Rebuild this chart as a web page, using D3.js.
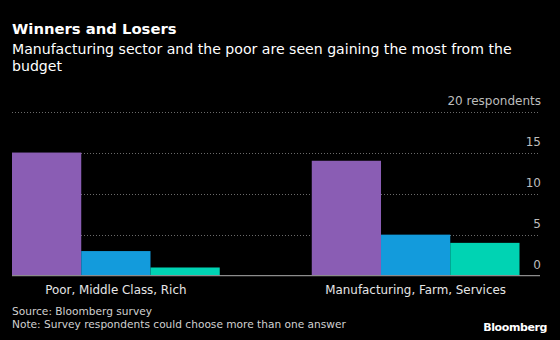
<!DOCTYPE html>
<html>
<head>
<meta charset="utf-8">
<script src="https://cdn.jsdelivr.net/npm/d3@7"></script>
<style>
  html, body { margin: 0; padding: 0; background: #000; }
  svg { display: block; font-family: "DejaVu Sans", sans-serif; }
</style>
</head>
<body>
<div id="chart"></div>
<script>
var w = 560;
var h = 340;

// groups along the x axis, and the three bars inside each group
var groups = ["Poor, Middle Class, Rich", "Manufacturing, Farm, Services"];
var firstBar = [15, 14];   // Poor / Manufacturing
var secondBar = [3, 5];    // Middle Class / Farm
var thirdBar = [1, 4];     // Rich / Services
var yTicks = [0, 5, 10, 15, 20];

var barColors = ["#8a5db4", "#139bdc", "#00d3b3"];

var svg = d3.select("#chart")
  .append("svg")
  .attr("width", w)
  .attr("height", h);

// title block
svg.append("text")
  .attr("x", 12)
  .attr("y", 34)
  .attr("fill", "#fff")
  .attr("font-size", 14.8)
  .attr("font-weight", "bold")
  .text("Winners and Losers");

svg.append("text")
  .attr("x", 12)
  .attr("y", 54)
  .attr("fill", "#fff")
  .attr("font-size", 14.1)
  .text("Manufacturing sector and the poor are seen gaining the most from the");

svg.append("text")
  .attr("x", 12)
  .attr("y", 71)
  .attr("fill", "#fff")
  .attr("font-size", 14.1)
  .text("budget");

var plotLeft = 12, plotRight = 540, plotTop = 111.5, plotBottom = 275.7;

var y = d3.scaleLinear()
  .domain([0, 20])
  .range([plotBottom, plotTop]);

var x0 = d3.scaleBand()
  .domain(groups)
  .range([plotLeft, 519.5])
  .paddingInner(0.307)
  .paddingOuter(0);

var x1 = d3.scaleBand()
  .domain([0, 1, 2])
  .range([0, x0.bandwidth()]);

// dotted gridlines
svg.append("g")
  .selectAll("line")
  .data(yTicks.filter(function(d) { return d > 0; }))
  .enter()
  .append("line")
  .attr("x1", plotLeft)
  .attr("x2", plotRight)
  .attr("y1", function(d) { return Math.round(y(d)) + 0.5; })
  .attr("y2", function(d) { return Math.round(y(d)) + 0.5; })
  .attr("stroke", "#6a6a6a")
  .attr("stroke-width", 1)
  .attr("stroke-dasharray", "1,2");

// tick labels, right aligned above each gridline
svg.append("g")
  .selectAll("text")
  .data(yTicks)
  .enter()
  .append("text")
  .attr("x", 541)
  .attr("y", function(d) { return y(d) - 7; })
  .attr("text-anchor", "end")
  .attr("fill", "#bdbdbd")
  .attr("font-size", 12)
  .text(function(d) { return d == 20 ? "20 respondents" : d; });

// bars
var rows = groups.map(function(g, i) {
  return { group: g, values: [firstBar[i], secondBar[i], thirdBar[i]] };
});

var grp = svg.append("g")
  .selectAll("g")
  .data(rows)
  .enter()
  .append("g")
  .attr("transform", function(d) { return "translate(" + x0(d.group) + ",0)"; });

grp.selectAll("rect")
  .data(function(d) { return d.values; })
  .enter()
  .append("rect")
  .attr("x", function(d, i) { return x1(i); })
  .attr("width", x1.bandwidth())
  .attr("y", function(d) { return y(d); })
  .attr("height", function(d) { return y(0) - y(d); })
  .attr("fill", function(d, i) { return barColors[i]; });

// zero line
svg.append("line")
  .attr("x1", plotLeft)
  .attr("x2", plotRight)
  .attr("y1", y(0))
  .attr("y2", y(0))
  .attr("stroke", "#8c8c8c")
  .attr("stroke-width", 1.2);

// category labels
svg.append("g")
  .selectAll("text")
  .data(groups)
  .enter()
  .append("text")
  .attr("x", function(d) { return x0(d) + x0.bandwidth() / 2; })
  .attr("y", 294)
  .attr("text-anchor", "middle")
  .attr("fill", "#e6e6e6")
  .attr("font-size", 11.9)
  .text(function(d) { return d; });

// footer
svg.append("text")
  .attr("x", 12)
  .attr("y", 315)
  .attr("fill", "#d0d0d0")
  .attr("font-size", 10.6)
  .text("Source: Bloomberg survey");

svg.append("text")
  .attr("x", 12)
  .attr("y", 328)
  .attr("fill", "#d0d0d0")
  .attr("font-size", 10.6)
  .text("Note: Survey respondents could choose more than one answer");

svg.append("text")
  .attr("x", 547)
  .attr("y", 331)
  .attr("text-anchor", "end")
  .attr("fill", "#fff")
  .attr("font-size", 11)
  .attr("font-weight", "bold")
  .attr("letter-spacing", -0.4)
  .text("Bloomberg");
</script>
</body>
</html>
